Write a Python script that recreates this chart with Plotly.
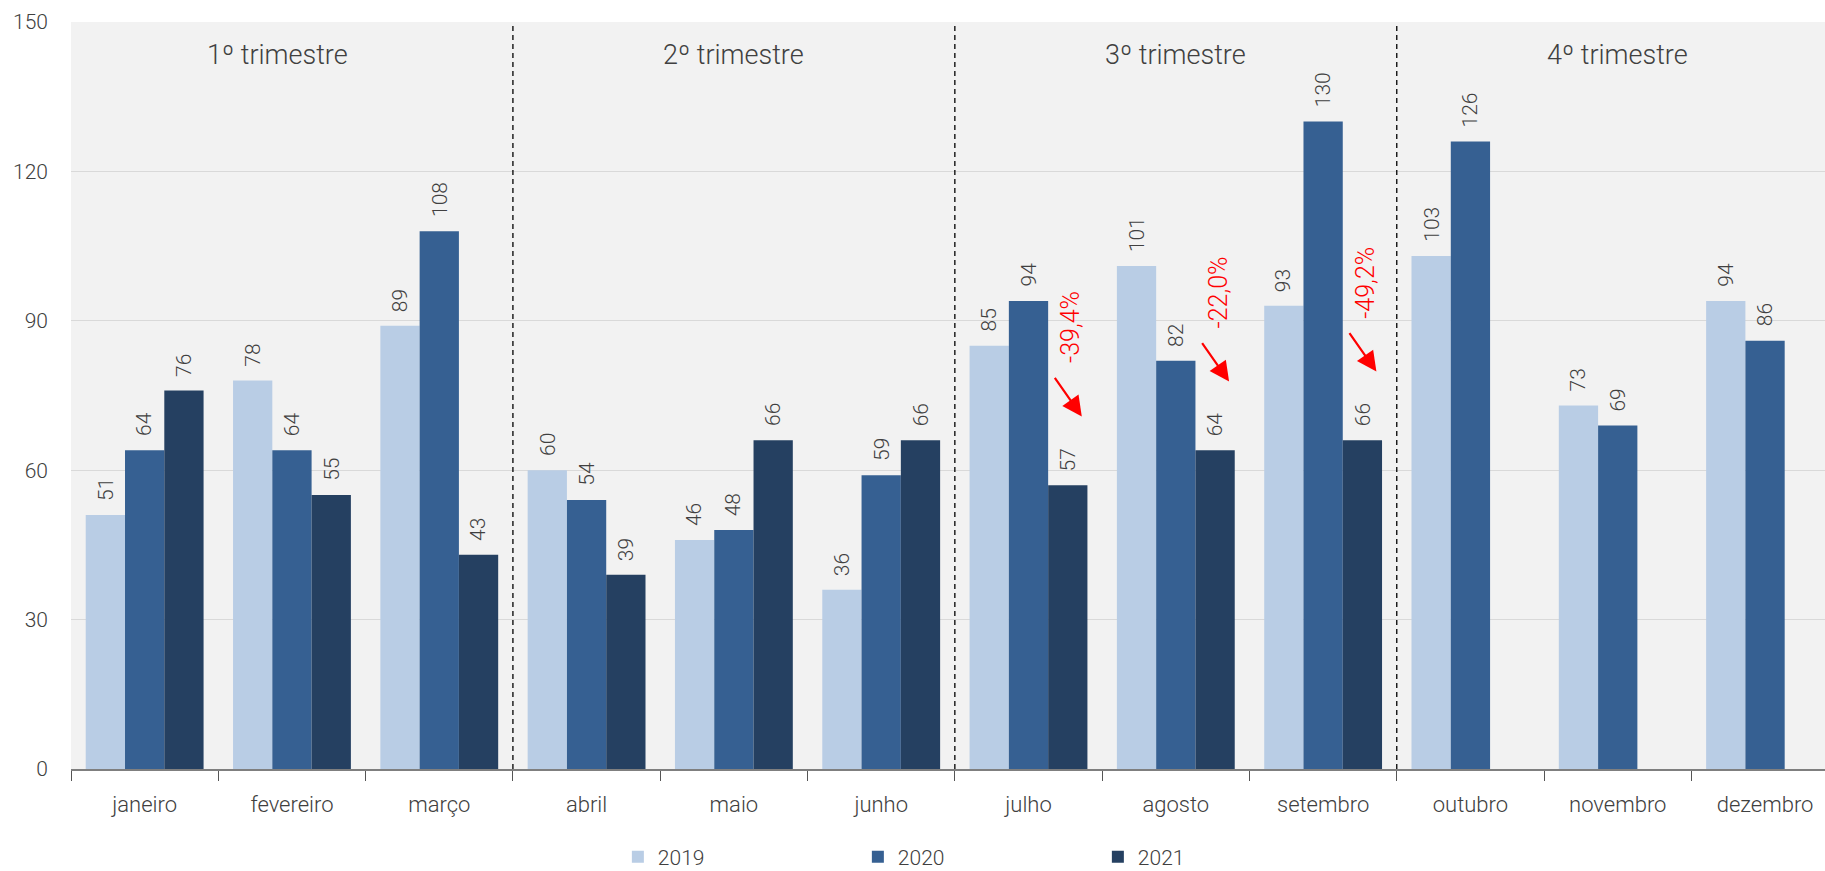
import plotly.graph_objects as go

months = ["janeiro", "fevereiro", "março", "abril", "maio", "junho",
          "julho", "agosto", "setembro", "outubro", "novembro", "dezembro"]
years = ["2019", "2020", "2021"]
v2019 = [51, 78, 89, 60, 46, 36, 85, 101, 93, 103, 73, 94]
v2020 = [64, 64, 108, 54, 48, 59, 94, 82, 130, 126, 69, 86]
v2021 = [76, 55, 43, 39, 66, 66, 57, 64, 66, None, None, None]
quarters = ["1º trimestre", "2º trimestre", "3º trimestre", "4º trimestre"]
quarter_x = [0.9, 4.0, 7.0, 10.0]
change_months = [6, 7, 8]  # julho, agosto, setembro

colors = ["#b9cde5", "#366092", "#254061"]
series = [v2019, v2020, v2021]
FONT = "Roboto"
W = 300
TXT = "#404040"


def f(size, color=TXT):
    return dict(family=FONT, size=size, color=color, weight=W)


fig = go.Figure()
for name, vals, col in zip(years, series, colors):
    fig.add_trace(go.Bar(x=months, y=vals, name=name, marker_color=col,
                         marker_line_width=0))

annotations = []
slot = 0.8 / 3
for k, vals in enumerate(series):
    for i, v in enumerate(vals):
        if v is None:
            continue
        annotations.append(dict(x=i + (k - 1) * slot, y=v, xref="x", yref="y",
                                text=str(v), textangle=-90, showarrow=False,
                                yanchor="bottom", xanchor="center", yshift=12,
                                font=f(21)))

for qx, q in zip(quarter_x, quarters):
    annotations.append(dict(x=qx, y=143.4, xref="x", yref="y", text=q,
                            showarrow=False, xanchor="center", yanchor="middle",
                            font=f(27)))

for i in change_months:
    pct = (v2021[i] / v2020[i] - 1) * 100
    label = f"{pct:.1f}%".replace(".", ",")
    annotations.append(dict(x=i + slot + 0.02, y=v2021[i] + 31.7, xref="x", yref="y",
                            text=label, textangle=-90, showarrow=False,
                            xanchor="center", yanchor="middle",
                            font=f(25, "#ff0000")))
    annotations.append(dict(x=i + slot + 0.095, y=v2021[i] + 13.8, xref="x", yref="y",
                            ax=-28, ay=-40, showarrow=True, text="",
                            arrowhead=2, arrowsize=1.8, arrowwidth=2.2,
                            arrowcolor="#ff0000"))

shapes = []
for b in [2.5, 5.5, 8.5]:
    shapes.append(dict(type="line", xref="x", yref="y", x0=b, x1=b, y0=0, y1=150,
                       line=dict(color="#000000", width=1.3, dash="5px,4px")))

fig.update_layout(
    width=1825, height=871,
    margin=dict(l=71, r=0, t=22, b=102),
    paper_bgcolor="#ffffff", plot_bgcolor="#f2f2f2",
    barmode="group", bargap=0.2, bargroupgap=0,
    font=f(20),
    annotations=annotations, shapes=shapes,
    legend=dict(orientation="h", x=569 / 1825, xanchor="left",
                yref="container", y=(871 - 857) / 871, yanchor="middle",
                entrywidth=195, entrywidthmode="pixels",
                font=f(21),
                bgcolor="rgba(0,0,0,0)"),
    showlegend=True,
)
fig.update_xaxes(range=[-0.5, 11.407], tickson="boundaries", ticks="outside",
                 ticklen=10, tickcolor="#555555", tickwidth=1,
                 showline=True, linecolor="#7f7f7f", linewidth=1.5,
                 showgrid=False, ticklabelstandoff=15, tickfont=f(22))
fig.update_yaxes(range=[0, 150], tickvals=[0, 30, 60, 90, 120, 150],
                 showgrid=True, gridcolor="#d9d9d9", gridwidth=1,
                 zeroline=False, showline=False, ticks="",
                 ticklabelstandoff=22, tickfont=f(21))

fig.write_html("out.html")
